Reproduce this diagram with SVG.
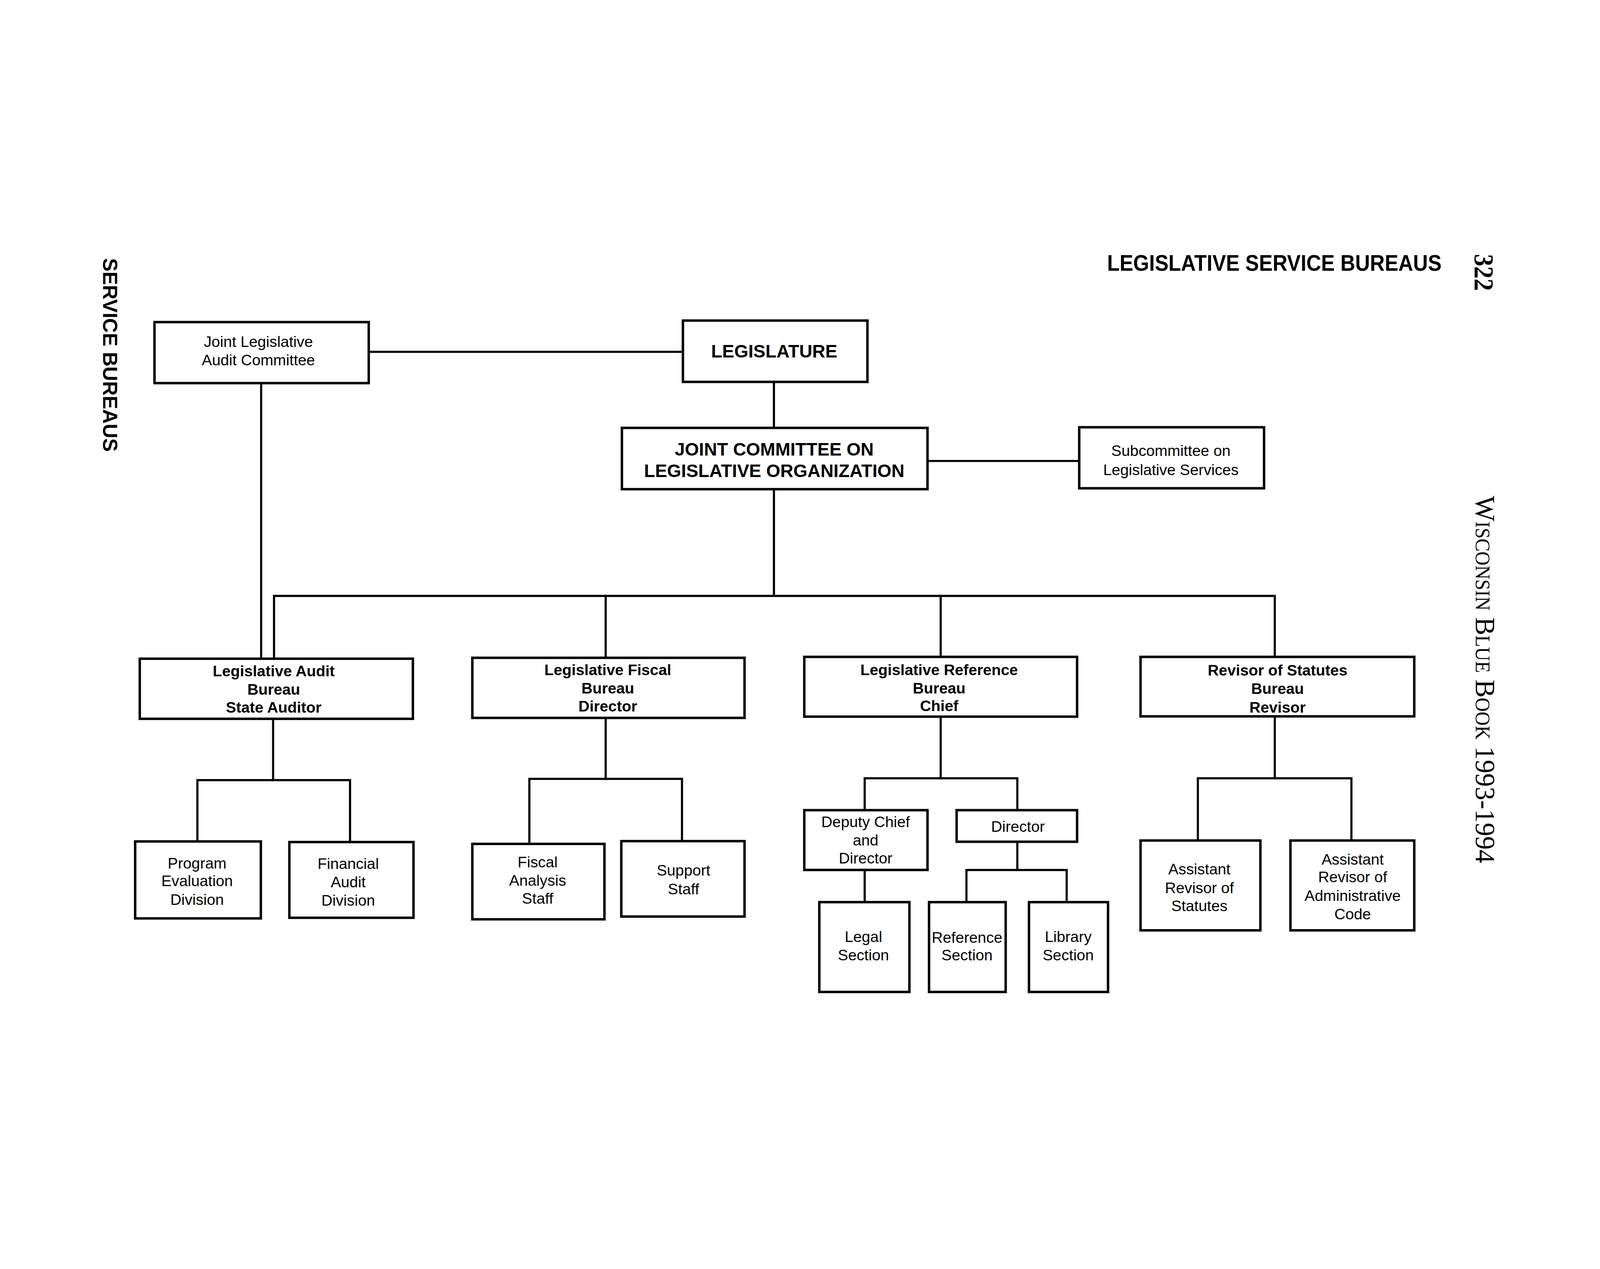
<svg xmlns="http://www.w3.org/2000/svg" width="5220" height="3248" viewBox="0 0 5220 3248" style="width:100%;height:100%">
<style>
.box{fill:#fff;stroke:#000;stroke-width:8}
.ln{fill:none;stroke:#000;stroke-width:7;stroke-linejoin:miter;stroke-linecap:square}
.t{font-family:"Liberation Sans",Arial,sans-serif;font-size:50px;fill:#000;text-anchor:middle}
.tb{font-family:"Liberation Sans",Arial,sans-serif;font-size:50px;font-weight:bold;fill:#000;text-anchor:middle}
.tbig{font-family:"Liberation Sans",Arial,sans-serif;font-size:59px;font-weight:bold;fill:#000;text-anchor:middle}
.hd{font-family:"Liberation Sans",Arial,sans-serif;font-weight:bold;fill:#000}
.sf{font-family:"Liberation Serif","Times New Roman",serif;fill:#000}
</style>
<rect width="5220" height="3248" fill="#fff"/>

<!-- page headers -->
<text class="hd" x="3612" y="438" font-size="72" textLength="1091" lengthAdjust="spacingAndGlyphs">LEGISLATIVE SERVICE BUREAUS</text>
<text class="hd" transform="translate(336,396) rotate(90)" font-size="66" textLength="632" lengthAdjust="spacingAndGlyphs">SERVICE BUREAUS</text>
<text class="sf" transform="translate(4811,383) rotate(90)" font-size="88" font-weight="bold" textLength="120" lengthAdjust="spacingAndGlyphs">322</text>
<text class="sf" transform="translate(4815,1172) rotate(90)" font-size="92" textLength="1198" lengthAdjust="spacingAndGlyphs">W<tspan font-size="66">ISCONSIN</tspan> B<tspan font-size="66">LUE</tspan> B<tspan font-size="66">OOK</tspan> 1993-1994</text>

<!-- connectors -->
<g id="connectors">
<path class="ln" d="M1207 702 H2226"/>
<path class="ln" d="M2525 804 V946"/>
<path class="ln" d="M3030 1058 H3517"/>
<path class="ln" d="M2525 1154 V1498"/>
<path class="ln" d="M894 1699 V1498 H4159 V1693"/>
<path class="ln" d="M852 808 V1699"/>
<path class="ln" d="M1976 1498 V1696"/>
<path class="ln" d="M3069 1498 V1693"/>
<path class="ln" d="M891 1903 V2099"/>
<path class="ln" d="M644 2295 V2099 H1142 V2297"/>
<path class="ln" d="M1976 1900 V2095"/>
<path class="ln" d="M1727 2303 V2095 H2225 V2294"/>
<path class="ln" d="M3069 1896 V2093"/>
<path class="ln" d="M2821 2193 V2093 H3319 V2193"/>
<path class="ln" d="M2821 2396 V2493"/>
<path class="ln" d="M3319 2304 V2392"/>
<path class="ln" d="M3153 2493 V2392 H3480 V2493"/>
<path class="ln" d="M4159 1895 V2093"/>
<path class="ln" d="M3908 2292 V2093 H4409 V2292"/>
</g>

<g id="jlac">
<rect class="box" x="504" y="605" width="699" height="199"/>
<text class="t" x="843" y="686" font-size="51">Joint Legislative</text>
<text class="t" x="843" y="746" font-size="51">Audit Committee</text>
</g>
<g id="legislature">
<rect class="box" x="2228" y="600" width="602" height="200"/>
<text class="tbig" x="2526" y="720">LEGISLATURE</text>
</g>
<g id="jclo">
<rect class="box" x="2029" y="950" width="997" height="200"/>
<text class="tbig" x="2526" y="1040">JOINT COMMITTEE ON</text>
<text class="tbig" x="2526" y="1110">LEGISLATIVE ORGANIZATION</text>
</g>
<g id="subcommittee">
<rect class="box" x="3521" y="948" width="603" height="199"/>
<text class="t" x="3820" y="1042" font-size="51">Subcommittee on</text>
<text class="t" x="3820" y="1104" font-size="51">Legislative Services</text>
</g>

<g id="lab">
<rect class="box" x="456" y="1703" width="891" height="196"/>
<text class="tb" x="893" y="1760">Legislative Audit</text>
<text class="tb" x="893" y="1820">Bureau</text>
<text class="tb" x="893" y="1879">State Auditor</text>
</g>
<g id="lfb">
<rect class="box" x="1541" y="1700" width="888" height="196"/>
<text class="tb" x="1983" y="1756">Legislative Fiscal</text>
<text class="tb" x="1983" y="1817">Bureau</text>
<text class="tb" x="1983" y="1875">Director</text>
</g>
<g id="lrb">
<rect class="box" x="2624" y="1697" width="890" height="195"/>
<text class="tb" x="3064" y="1756">Legislative Reference</text>
<text class="tb" x="3064" y="1816">Bureau</text>
<text class="tb" x="3064" y="1874">Chief</text>
</g>
<g id="revisor">
<rect class="box" x="3721" y="1697" width="893" height="194"/>
<text class="tb" x="4168" y="1758">Revisor of Statutes</text>
<text class="tb" x="4168" y="1818">Bureau</text>
<text class="tb" x="4168" y="1879">Revisor</text>
</g>

<g id="program">
<rect class="box" x="441" y="2299" width="410" height="251"/>
<text class="t" x="643" y="2387">Program</text>
<text class="t" x="643" y="2445">Evaluation</text>
<text class="t" x="643" y="2506">Division</text>
</g>
<g id="financial">
<rect class="box" x="944" y="2301" width="405" height="247"/>
<text class="t" x="1136" y="2389">Financial</text>
<text class="t" x="1136" y="2449">Audit</text>
<text class="t" x="1136" y="2508">Division</text>
</g>
<g id="fiscal-analysis">
<rect class="box" x="1541" y="2307" width="431" height="246"/>
<text class="t" x="1754" y="2384">Fiscal</text>
<text class="t" x="1754" y="2443">Analysis</text>
<text class="t" x="1754" y="2502">Staff</text>
</g>
<g id="support">
<rect class="box" x="2027" y="2298" width="402" height="246"/>
<text class="t" x="2230" y="2410">Support</text>
<text class="t" x="2230" y="2472">Staff</text>
</g>
<g id="deputy">
<rect class="box" x="2624" y="2197" width="402" height="195"/>
<text class="t" x="2824" y="2252">Deputy Chief</text>
<text class="t" x="2824" y="2312">and</text>
<text class="t" x="2824" y="2371">Director</text>
</g>
<g id="director">
<rect class="box" x="3121" y="2197" width="393" height="103"/>
<text class="t" x="3321" y="2268">Director</text>
</g>
<g id="legal">
<rect class="box" x="2673" y="2497" width="294" height="293"/>
<text class="t" x="2817" y="2627">Legal</text>
<text class="t" x="2817" y="2687">Section</text>
</g>
<g id="reference">
<rect class="box" x="3031" y="2497" width="250" height="293"/>
<text class="t" x="3155" y="2629">Reference</text>
<text class="t" x="3155" y="2687">Section</text>
</g>
<g id="library">
<rect class="box" x="3357" y="2497" width="258" height="293"/>
<text class="t" x="3485" y="2627">Library</text>
<text class="t" x="3485" y="2687">Section</text>
</g>
<g id="asst-statutes">
<rect class="box" x="3721" y="2296" width="391" height="293"/>
<text class="t" x="3913" y="2407">Assistant</text>
<text class="t" x="3913" y="2468">Revisor of</text>
<text class="t" x="3913" y="2526">Statutes</text>
</g>
<g id="asst-admin">
<rect class="box" x="4210" y="2296" width="404" height="293"/>
<text class="t" x="4413" y="2374">Assistant</text>
<text class="t" x="4413" y="2432">Revisor of</text>
<text class="t" x="4413" y="2493">Administrative</text>
<text class="t" x="4413" y="2553">Code</text>
</g>
</svg>
